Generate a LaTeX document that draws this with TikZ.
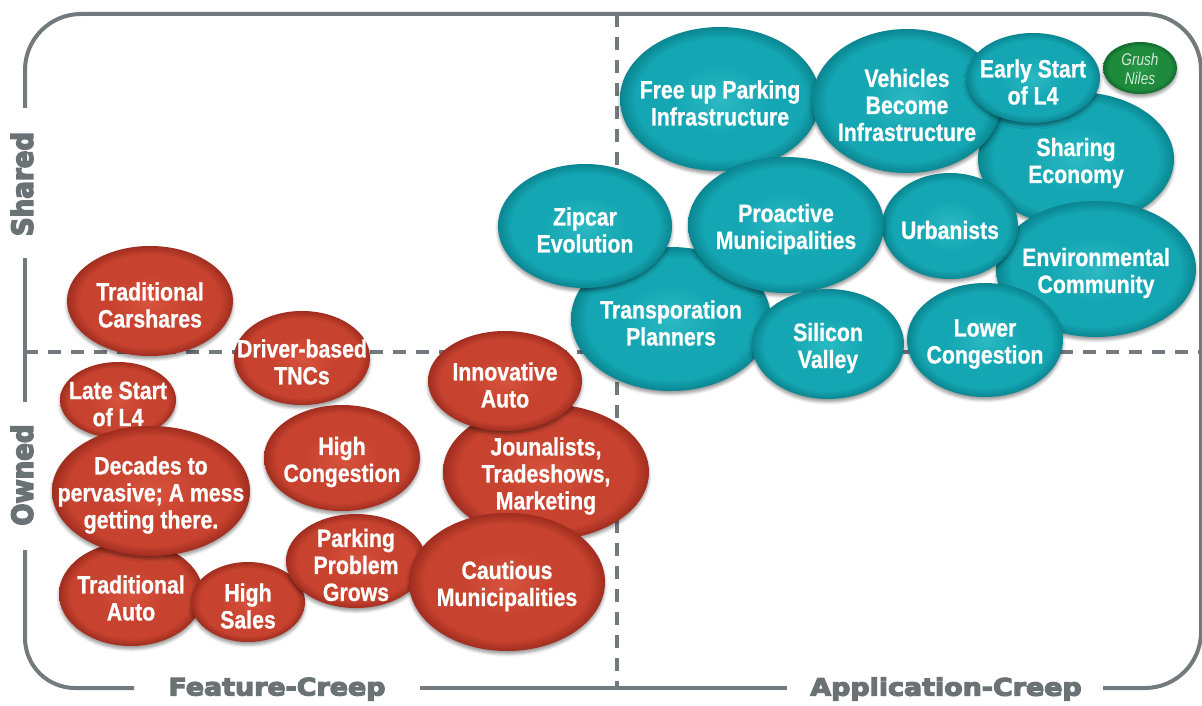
\documentclass[tikz,border=0pt]{standalone}
\usepackage{fontspec}
\setmainfont{Liberation Sans}
\newfontfamily\bubblefont{Liberation Sans}[FakeStretch=0.85, FakeBold=0.8]
\newfontfamily\axisfont{DejaVu Sans}[UprightFont=* Bold, FakeStretch=1.12, FakeBold=5]
\newfontfamily\sideaxisfont{DejaVu Sans}[UprightFont=* Bold, FakeStretch=0.9, FakeBold=5]
\newfontfamily\namefont{Liberation Sans}[FakeStretch=0.8]
\usetikzlibrary{shapes.geometric,shadows.blur}

\definecolor{framegray}{HTML}{737A7E}
\definecolor{axisgray}{HTML}{6B7276}
\definecolor{redlight}{HTML}{D6533D}
\definecolor{redmain}{HTML}{C8432F}
\definecolor{reddark}{HTML}{A02D1F}
\definecolor{teallight}{HTML}{2CB9C3}
\definecolor{tealmain}{HTML}{14A7B3}
\definecolor{tealdark}{HTML}{0A8691}
\definecolor{greenlight}{HTML}{2A9A48}
\definecolor{greenmain}{HTML}{1E8A3C}
\definecolor{greendark}{HTML}{126A2A}
\definecolor{nametext}{HTML}{D5E8D8}

% bubble shadings: light core, flat body, darker rim
\pgfdeclareradialshading{redbubble}{\pgfpoint{0bp}{0bp}}{color(0bp)=(redlight); color(12bp)=(redmain); color(21bp)=(redmain); color(25bp)=(reddark); color(50bp)=(reddark)}
\pgfdeclareradialshading{tealbubble}{\pgfpoint{0bp}{0bp}}{color(0bp)=(teallight); color(12bp)=(tealmain); color(21bp)=(tealmain); color(25bp)=(tealdark); color(50bp)=(tealdark)}
\pgfdeclareradialshading{greenbubble}{\pgfpoint{0bp}{0bp}}{color(0bp)=(greenlight); color(12bp)=(greenmain); color(21bp)=(greenmain); color(25bp)=(greendark); color(50bp)=(greendark)}

\tikzset{
  bubbletext/.style={align=center, text=white, inner sep=0pt, yshift=-4pt,
    font=\bubblefont\bfseries\fontsize{25}{27}\selectfont},
  nametextstyle/.style={align=center, text=nametext, inner sep=0pt, yshift=-1pt,
    font=\namefont\itshape\fontsize{17}{19.5}\selectfont},
  bubble/.style={ellipse, inner sep=0pt,
    blur shadow={shadow xshift=0pt, shadow yshift=-3pt, shadow blur radius=3pt, shadow opacity=40}},
  redbub/.style={bubble, shading=redbubble, label={[bubbletext]center:#1}},
  tealbub/.style={bubble, shading=tealbubble, label={[bubbletext]center:#1}},
  greenbub/.style={bubble, shading=greenbubble, label={[nametextstyle]center:#1}},
  sz/.style 2 args={minimum width=#1pt, minimum height=#2pt},
  frameline/.style={draw=framegray, line width=4pt},
  quadline/.style={draw=framegray, line width=4pt, dash pattern=on 13pt off 10pt},
  axislabel/.style={text=axisgray, font=\axisfont\fontsize{24}{28}\selectfont, inner sep=0pt},
  sidelabel/.style={text=axisgray, font=\sideaxisfont\fontsize{29}{32}\selectfont, inner sep=0pt, rotate=90}
}

\begin{document}
\begin{tikzpicture}[x=1pt,y=-1pt]
\useasboundingbox (0,0) rectangle (1202,706);

% quadrant dividers
\draw[quadline] (617,14) -- (617,688);
\draw[quadline] (25,352) -- (1202,352);

% outer frame, broken for the axis labels
\draw[frameline, rounded corners=56pt] (25,108) -- (25,14) -- (1201,14) -- (1201,688) -- (1103,688);
\draw[frameline] (25,258) -- (25,402);
\draw[frameline, rounded corners=50pt] (25,550) -- (25,688) -- (134,688);
\draw[frameline] (420,688) -- (787,688);

% axis labels
\node[sidelabel] (shared) at (22,184) {Shared};
\node[sidelabel] (owned) at (22,475) {Owned};
\node[axislabel] (feature) at (277,689) {Feature-Creep};
\node[axislabel] (application) at (946,689) {Application-Creep};

% owned / feature-creep bubbles
\node[redbub={Traditional\\Carshares}, sz={166}{110}] (carshares) at (150,301) {};
\node[redbub={Driver-based\\TNCs}, sz={136}{94}] (tncs) at (302,358) {};
\node[redbub={Late Start\\of L4}, sz={116}{76}] (late) at (118,400) {};
\node[redbub={Traditional\\Auto}, sz={144}{104}] (tradauto) at (131,594) {};
\node[redbub={Decades to\\pervasive; A mess\\getting there.}, sz={198}{130}] (decades) at (151,491) {};
\node[redbub={High\\Sales}, sz={114}{80}] (sales) at (248,602) {};
\node[redbub={High\\Congestion}, sz={156}{106}] (congestion) at (342,458) {};
\node[redbub={Parking\\Problem\\Grows}, sz={140}{94}] (parking) at (356,561) {};
\node[redbub={Jounalists,\\Tradeshows,\\Marketing}, sz={206}{136}] (journalists) at (546,472) {};
\node[redbub={Innovative\\Auto}, sz={154}{100}] (innovative) at (505,381) {};
\node[redbub={Cautious\\Municipalities}, sz={196}{138}] (cautious) at (507,582) {};

% shared / application-creep bubbles
\node[tealbub={Sharing\\Economy}, sz={196}{134}] (sharing) at (1076,159) {};
\node[tealbub={Free up Parking\\Infrastructure}, sz={200}{144}] (freeup) at (720,99) {};
\node[tealbub={Vehicles\\Become\\Infrastructure}, sz={190}{144}] (vehicles) at (907,101) {};
\node[tealbub={Early Start\\of L4}, sz={134}{90}] (early) at (1033,78) {};
\node[tealbub={Environmental\\Community}, sz={200}{136}] (env) at (1096,269) {};
\node[tealbub={Transporation\\Planners}, sz={200}{144}] (transp) at (671,319) {};
\node[tealbub={Zipcar\\Evolution}, sz={174}{124}] (zipcar) at (585,226) {};
\node[tealbub={Urbanists}, sz={136}{106}] (urbanists) at (950,226) {};
\node[tealbub={Proactive\\Municipalities}, sz={196}{136}] (proactive) at (786,225) {};
\node[tealbub={Silicon\\Valley}, sz={152}{110}] (silicon) at (828,344) {};
\node[tealbub={Lower\\Congestion}, sz={156}{114}] (lower) at (985,340) {};

\node[greenbub={Grush\\Niles}, sz={74}{52}] (grush) at (1140,68) {};
\end{tikzpicture}
\end{document}
